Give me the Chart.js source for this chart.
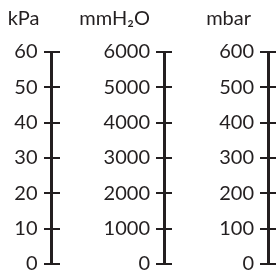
<!DOCTYPE html>
<html>
<head>
<meta charset="utf-8">
<style>
  html, body { margin: 0; padding: 0; background: #fff; }
  #wrap { width: 276px; height: 276px; }
</style>
<script src="https://cdn.jsdelivr.net/npm/chart.js@4/dist/chart.umd.min.js"></script>
</head>
<body>
<div id="wrap"><canvas id="chart"></canvas></div>
<script>
// unit titles and the three scales of the pressure nomogram
const units = ["kPa", "mmH\u2082O", "mbar"];
const kpaTicks = [0, 10, 20, 30, 40, 50, 60];
const mmh2oTicks = [0, 1000, 2000, 3000, 4000, 5000, 6000];
const mbarTicks = [0, 100, 200, 300, 400, 500, 600];
const axisAt = [51.5, 164, 268]; // where each axis stands on the hidden x scale
const titleGap = [12, 14, 17];

const ink = "#231f20";
const fontFamily = "Lato, 'Open Sans', sans-serif";

function fixedTicks(ticks) {
  return (scale) => {
    scale.ticks = ticks.map((v) => ({ value: v }));
  };
}

// every axis is built from three scales sharing one range:
// the labels, the cross ticks and the axis line itself
function axisScales(ticks, at) {
  const base = {
    type: "linear",
    axis: "y",
    min: ticks[0],
    max: ticks[ticks.length - 1],
    afterBuildTicks: fixedTicks(ticks),
  };
  return [
    {
      ...base,
      position: { x: at - 14 },
      border: { display: false },
      grid: { display: false },
      ticks: {
        color: ink,
        font: { family: fontFamily, size: 20 },
        padding: 0,
        callback: (v) => String(v),
      },
    },
    {
      ...base,
      position: { x: at + 8 },
      border: { display: false },
      grid: { drawOnChartArea: false, drawTicks: true, tickLength: 16, color: ink, lineWidth: 2 },
      ticks: { display: false },
    },
    {
      ...base,
      position: { x: at },
      border: { display: true, color: ink, width: 3 },
      grid: { display: false },
      ticks: { display: false },
    },
  ];
}

const scales = {
  x: { type: "linear", min: 0, max: 276, display: false },
  y: { display: false },
};
[kpaTicks, mmh2oTicks, mbarTicks].forEach((t, i) => {
  axisScales(t, axisAt[i]).forEach((s, j) => {
    scales["unit" + i + "_" + j] = s;
  });
});

const unitTitles = {
  id: "unitTitles",
  afterDraw(chart) {
    const ctx = chart.ctx;
    ctx.save();
    ctx.fillStyle = ink;
    ctx.font = "20px " + fontFamily;
    ctx.textAlign = "right";
    ctx.textBaseline = "alphabetic";
    units.forEach((u, i) => {
      const x = chart.scales.x.getPixelForValue(axisAt[i]);
      ctx.fillText(u, x - titleGap[i], 25);
    });
    ctx.restore();
  },
};

new Chart(document.getElementById("chart"), {
  type: "scatter",
  data: { datasets: [{ data: [] }] },
  options: {
    responsive: true,
    maintainAspectRatio: false,
    animation: false,
    layout: { padding: { top: 52, bottom: 6, left: 0, right: 0 } },
    plugins: { legend: { display: false }, tooltip: { enabled: false } },
    scales: scales,
  },
  plugins: [unitTitles],
});
</script>
</body>
</html>
